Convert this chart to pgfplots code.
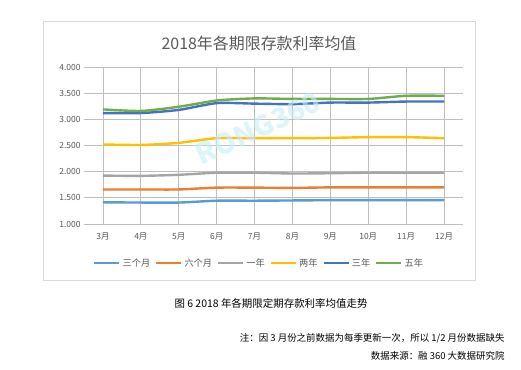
\documentclass[border=0pt]{standalone}
\usepackage{pgfplots}
\pgfplotsset{compat=1.18}
\usepackage{fontspec}
\setmainfont{Noto Sans CJK SC}
\definecolor{c1}{HTML}{5B9BD5}
\definecolor{c2}{HTML}{ED7D31}
\definecolor{c3}{HTML}{A5A5A5}
\definecolor{c4}{HTML}{FFC000}
\definecolor{c5}{HTML}{4472C4}
\definecolor{c6}{HTML}{70AD47}
\definecolor{txt}{HTML}{595959}
\definecolor{grid}{HTML}{D9D9D9}
\definecolor{wm}{HTML}{C8EEFA}
\begin{document}
\begin{tikzpicture}[x=1bp,y=1bp]
\useasboundingbox (0,0) rectangle (521,369);
\fill[white] (0,0) rectangle (521,369);
\draw[grid,line width=0.8bp] (43,348) rectangle (475,89);
\node[text=txt,font=\fontsize{16}{18}\selectfont] at (259,326) {2018年各期限存款利率均值};
\begin{axis}[
  at={(84bp,145bp)}, anchor=south west,
  scale only axis, width=379bp, height=157bp,
  xmin=2.5, xmax=12.5, ymin=1, ymax=4,
  xtick={3,...,12},
  xticklabels={3月,4月,5月,6月,7月,8月,9月,10月,11月,12月},
  ytick={1,1.5,...,4},
  axis line style={draw=none},
  major tick length=0pt,
  ymajorgrids, grid style={grid, line width=0.8bp},
  tick label style={text=txt, font=\fontsize{8.5}{10}\selectfont},
  xticklabel style={yshift=-5bp},
  /pgf/number format/.cd, fixed, fixed zerofill, precision=3, assume math mode=true,
  /pgfplots/.cd,
  every axis plot/.append style={line width=2.4bp, smooth, tension=0.4, mark=none},
  legend style={at={(0.462,-0.248)}, anchor=center, draw=none, fill=none,
    font=\fontsize{9.2}{10}\selectfont, text=txt, legend columns=6,
    /tikz/every even column/.append style={column sep=3bp},
    inner sep=0pt},
  legend image code/.code={\draw[#1, line width=2.4bp] (0bp,0bp) -- (25bp,0bp);},
]
\addplot[c1] coordinates {(3,1.415) (4,1.41) (5,1.41) (6,1.445) (7,1.445) (8,1.45) (9,1.455) (10,1.455) (11,1.455) (12,1.455)};
\addplot[c2] coordinates {(3,1.66) (4,1.66) (5,1.66) (6,1.695) (7,1.695) (8,1.69) (9,1.70) (10,1.70) (11,1.70) (12,1.70)};
\addplot[c3] coordinates {(3,1.925) (4,1.92) (5,1.94) (6,1.98) (7,1.98) (8,1.965) (9,1.97) (10,1.98) (11,1.98) (12,1.98)};
\addplot[c4] coordinates {(3,2.52) (4,2.51) (5,2.55) (6,2.64) (7,2.64) (8,2.64) (9,2.645) (10,2.66) (11,2.66) (12,2.64)};
\addplot[c5] coordinates {(3,3.12) (4,3.12) (5,3.18) (6,3.31) (7,3.30) (8,3.29) (9,3.32) (10,3.32) (11,3.34) (12,3.34)};
\addplot[c6] coordinates {(3,3.19) (4,3.16) (5,3.24) (6,3.36) (7,3.40) (8,3.39) (9,3.39) (10,3.39) (11,3.45) (12,3.45)};
\legend{三个月,六个月,一年,两年,三年,五年}
\end{axis}
\node[rotate=25,text=wm,opacity=0.6,font=\fontsize{28}{30}\selectfont\bfseries] at (258,241) {RONG360};
\node[font=\fontsize{10.5}{12}\selectfont] at (271,66) {图 6 2018 年各期限定期存款利率均值走势};
\node[anchor=east,font=\fontsize{9.5}{11}\selectfont] at (508,31) {注：因 3 月份之前数据为每季更新一次，所以 1/2 月份数据缺失};
\node[anchor=east,font=\fontsize{9.5}{11}\selectfont] at (508,13) {数据来源：融 360 大数据研究院};
\end{tikzpicture}
\end{document}
